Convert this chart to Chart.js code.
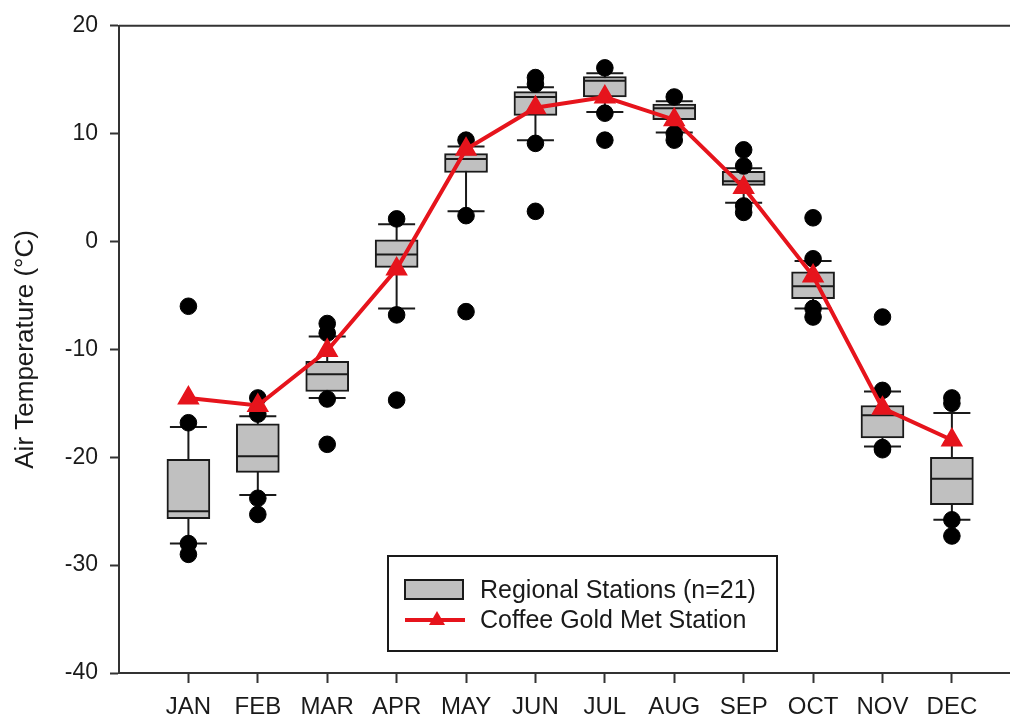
<!DOCTYPE html>
<html>
<head>
<meta charset="utf-8">
<title>Air temperature by month</title>
<script src="https://cdn.jsdelivr.net/npm/chart.js@4.4.1/dist/chart.umd.min.js"></script>
<style>
  body { margin: 0; background: #fff; }
  canvas { display: block; }
</style>
</head>
<body>
<canvas id="chart" width="1010" height="721"></canvas>
<script>
// months (x axis tick labels)
const months = ['JAN', 'FEB', 'MAR', 'APR', 'MAY', 'JUN', 'JUL', 'AUG', 'SEP', 'OCT', 'NOV', 'DEC']

// regional stations box plot stats (deg C)
const whiskerLow = [-28.0, -23.5, -14.5, -6.2, 2.8, 9.4, 12.0, 10.1, 3.6, -6.2, -19.0, -25.8]
const q1 = [-25.7, -21.4, -13.9, -2.4, 6.4, 11.7, 13.4, 11.3, 5.2, -5.3, -18.2, -24.4]
const median = [-25.0, -19.9, -12.3, -1.2, 7.65, 13.4, 14.9, 12.35, 5.6, -4.15, -16.1, -22.0]
const q3 = [-20.2, -16.9, -11.1, 0.15, 8.15, 13.9, 15.3, 12.75, 6.5, -2.8, -15.2, -20.0]
const whiskerHigh = [-17.2, -16.2, -8.8, 1.6, 8.8, 14.3, 15.6, 13.0, 6.8, -1.8, -13.9, -15.9]

// outlying stations, per month
const outliers = [
  [-6.0, -16.8, -28.0, -29.0],
  [-14.5, -16.0, -23.8, -25.3],
  [-7.6, -8.5, -14.6, -18.8],
  [2.1, -6.8, -14.7],
  [9.4, 2.4, -6.5],
  [15.2, 14.6, 9.1, 2.8],
  [16.1, 11.9, 9.4],
  [13.4, 10.0, 9.4],
  [8.5, 7.0, 3.3, 2.7],
  [2.2, -1.6, -6.2, -7.0],
  [-7.0, -13.8, -19.1, -19.3],
  [-14.5, -15.0, -25.8, -27.3]
]

// coffee gold met station monthly means
const metStation = [-14.5, -15.2, -10.1, -2.55, 8.55, 12.4, 13.4, 11.3, 5.0, -3.2, -15.45, -18.4]

// colours
const ink = '#1a1a1a'
const boxGrey = '#c0c0c0'
const red = '#e6141c'

Chart.defaults.font.family = "'Liberation Sans', Arial, sans-serif"
Chart.defaults.color = ink

// whiskers behind the boxes, medians on top, frame and legend last
const boxPlugin = {
  id: 'boxWhiskers',
  beforeDatasetDraw (chart, args) {
    if (args.index !== 0) return
    const { ctx, scales: { x, y } } = chart
    ctx.save()
    ctx.strokeStyle = ink
    ctx.lineWidth = 2
    months.forEach((m, i) => {
      const px = x.getPixelForValue(i + 1)
      const lo = y.getPixelForValue(whiskerLow[i])
      const hi = y.getPixelForValue(whiskerHigh[i])
      ctx.beginPath()
      ctx.moveTo(px, lo)
      ctx.lineTo(px, hi)
      ctx.moveTo(px - 18.5, lo)
      ctx.lineTo(px + 18.5, lo)
      ctx.moveTo(px - 18.5, hi)
      ctx.lineTo(px + 18.5, hi)
      ctx.stroke()
    })
    ctx.restore()
  },
  afterDatasetDraw (chart, args) {
    if (args.index !== 0) return
    const { ctx, scales: { x, y } } = chart
    ctx.save()
    ctx.strokeStyle = ink
    ctx.lineWidth = 2
    months.forEach((m, i) => {
      const px = x.getPixelForValue(i + 1)
      const py = y.getPixelForValue(median[i])
      ctx.beginPath()
      ctx.moveTo(px - 21, py)
      ctx.lineTo(px + 21, py)
      ctx.stroke()
    })
    ctx.restore()
  },
  afterDraw (chart) {
    const { ctx, chartArea } = chart
    ctx.save()
    // frame lines run off the right edge, as in the original figure
    ctx.strokeStyle = '#333'
    ctx.lineWidth = 2
    ctx.beginPath()
    ctx.moveTo(chartArea.left, chartArea.top)
    ctx.lineTo(chart.width, chartArea.top)
    ctx.moveTo(chartArea.right, chartArea.bottom)
    ctx.lineTo(chart.width, chartArea.bottom)
    ctx.stroke()

    // legend box
    const lx = chartArea.left + 269
    const ly = chartArea.bottom - 117
    ctx.fillStyle = '#fff'
    ctx.fillRect(lx, ly, 389, 95)
    ctx.strokeStyle = ink
    ctx.strokeRect(lx, ly, 389, 95)
    ctx.fillStyle = boxGrey
    ctx.fillRect(lx + 17, ly + 24, 58, 19)
    ctx.strokeRect(lx + 17, ly + 24, 58, 19)
    ctx.strokeStyle = red
    ctx.lineWidth = 4
    ctx.beginPath()
    ctx.moveTo(lx + 17, ly + 64)
    ctx.lineTo(lx + 77, ly + 64)
    ctx.stroke()
    ctx.fillStyle = red
    ctx.beginPath()
    ctx.moveTo(lx + 49, ly + 55)
    ctx.lineTo(lx + 57, ly + 69)
    ctx.lineTo(lx + 41, ly + 69)
    ctx.closePath()
    ctx.fill()
    ctx.fillStyle = ink
    ctx.font = "25px 'Liberation Sans', Arial, sans-serif"
    ctx.textBaseline = 'middle'
    ctx.fillText('Regional Stations (n=21)', lx + 92, ly + 35)
    ctx.fillText('Coffee Gold Met Station', lx + 92, ly + 65)
    ctx.restore()
  }
}

const canvas = document.getElementById('chart')
const chart = new Chart(canvas, {
  type: 'bar',
  data: {
    datasets: [
      {
        label: 'Regional Stations (n=21)',
        data: months.map((m, i) => ({ x: i + 1, y: [q1[i], q3[i]] })),
        backgroundColor: boxGrey,
        borderColor: ink,
        borderWidth: 2,
        borderSkipped: false,
        barThickness: 43,
        order: 3
      },
      {
        type: 'scatter',
        label: 'outliers',
        data: outliers.flatMap((vals, i) => vals.map(v => ({ x: i + 1, y: v }))),
        backgroundColor: '#000',
        borderColor: '#000',
        pointRadius: 8.3,
        order: 2
      },
      {
        type: 'line',
        label: 'Coffee Gold Met Station',
        data: metStation.map((v, i) => ({ x: i + 1, y: v })),
        borderColor: red,
        backgroundColor: red,
        borderWidth: 4,
        pointStyle: 'triangle',
        pointRadius: 9,
        pointBackgroundColor: red,
        pointBorderColor: red,
        tension: 0,
        order: 1
      }
    ]
  },
  options: {
    responsive: false,
    animation: false,
    devicePixelRatio: 1,
    layout: { padding: { top: 22, right: 0, bottom: 0, left: 0 } },
    plugins: { legend: { display: false }, tooltip: { enabled: false } },
    scales: {
      x: {
        type: 'linear',
        min: 0,
        max: 12.65,
        offset: false,
        afterBuildTicks: (axis) => { axis.ticks = months.map((m, i) => ({ value: i + 1 })) },
        afterFit: (scale) => { scale.height = 48 },
        ticks: {
          callback: (value) => months[value - 1],
          font: { size: 24 },
          padding: 10,
          maxRotation: 0,
          autoSkip: false
        },
        grid: { offset: false, drawOnChartArea: false, tickLength: 10, tickWidth: 2, tickColor: '#333' },
        border: { color: '#333', width: 2 }
      },
      y: {
        min: -40,
        max: 20,
        afterFit: (scale) => { scale.width = 119 },
        ticks: { stepSize: 10, font: { size: 23 }, padding: 12 },
        grid: { drawOnChartArea: false, tickLength: 9, tickWidth: 2, tickColor: '#333' },
        border: { color: '#333', width: 2 },
        title: {
          display: true,
          text: 'Air Temperature (°C)',
          font: { size: 26 },
          padding: { top: 10, bottom: 0 }
        }
      }
    }
  },
  plugins: [boxPlugin]
})
</script>
</body>
</html>
